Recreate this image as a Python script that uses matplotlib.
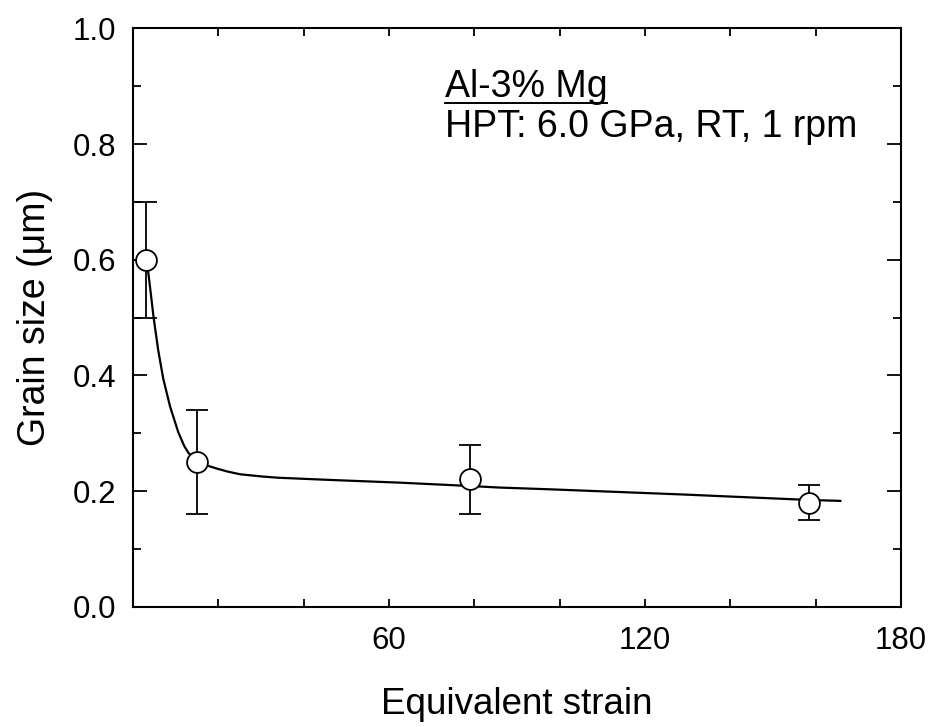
import matplotlib
matplotlib.use("Agg")
import matplotlib.pyplot as plt
from matplotlib.ticker import MultipleLocator, FixedLocator, FormatStrFormatter

plt.rcParams['font.family'] = ['Liberation Sans', 'DejaVu Sans']

# measured points
strain = [3, 15, 79, 158.5]
grain = [0.60, 0.25, 0.22, 0.18]
err_lo = [0.10, 0.09, 0.06, 0.03]
err_hi = [0.10, 0.09, 0.06, 0.03]

# fitted curve
fit_x = [3.0, 3.6, 4.2, 4.8, 5.9, 7.1, 8.7, 10.6, 12.0, 13.0, 14.9, 17.0,
         19.6, 22.0, 25.1, 30.5, 34.1, 46.9, 62.6, 78.2, 86.0, 97.7, 129.0,
         158.7, 165.8]
fit_y = [0.601, 0.577, 0.540, 0.502, 0.444, 0.394, 0.346, 0.302, 0.278,
         0.266, 0.2525, 0.245, 0.239, 0.234, 0.229, 0.225, 0.223, 0.219,
         0.2145, 0.209, 0.206, 0.203, 0.194, 0.1845, 0.183]

x_labels = ['60', '120', '180']
x_label_pos = [60, 120, 180]

fig = plt.figure(figsize=(9.32, 7.27), dpi=100)
ax = fig.add_axes([0.1427, 0.1655, 0.824, 0.7953])

ax.plot(fit_x, fit_y, color='black', lw=1.6, zorder=2)
ax.errorbar(strain, grain, yerr=[err_lo, err_hi], fmt='o', color='black',
            mfc='white', mec='black', ms=15, mew=1.3, elinewidth=1.3,
            capsize=8, capthick=1.3, zorder=3)

ax.set_xlim(0, 180)
ax.set_ylim(0, 1.0)

# x: ticks every 20 all same length, labels only at 60/120/180
ax.xaxis.set_major_locator(FixedLocator(x_label_pos))
ax.set_xticklabels(x_labels)
ax.xaxis.set_minor_locator(FixedLocator([20, 40, 80, 100, 140, 160]))
ax.yaxis.set_major_locator(MultipleLocator(0.2))
ax.yaxis.set_minor_locator(MultipleLocator(0.1))
ax.yaxis.set_major_formatter(FormatStrFormatter('%.1f'))

ax.tick_params(axis='x', which='both', direction='in', top=True, length=6,
               width=1.3, labelsize=22.5, pad=14)
ax.tick_params(axis='y', which='major', direction='in', right=True, length=10,
               width=1.3, labelsize=22.5, pad=12)
ax.tick_params(axis='y', which='minor', direction='in', right=True, length=6,
               width=1.3)
for s in ax.spines.values():
    s.set_linewidth(1.5)

ax.set_xlabel('Equivalent strain', fontsize=26.5, labelpad=22)
ax.set_ylabel('Grain size (μm)', fontsize=27, labelpad=14)

t1 = ax.text(0.406, 0.882, 'Al-3% Mg', transform=ax.transAxes, fontsize=27,
             va='baseline', ha='left')
ax.text(0.406, 0.812, 'HPT: 6.0 GPa, RT, 1 rpm', transform=ax.transAxes,
        fontsize=27, va='baseline', ha='left')

# underline the alloy name
fig.canvas.draw()
bb = t1.get_window_extent().transformed(ax.transAxes.inverted())
ax.plot([bb.x0, bb.x1], [0.872, 0.872], transform=ax.transAxes,
        color='black', lw=1.4, clip_on=False)

fig.savefig('out.png', dpi=100)
